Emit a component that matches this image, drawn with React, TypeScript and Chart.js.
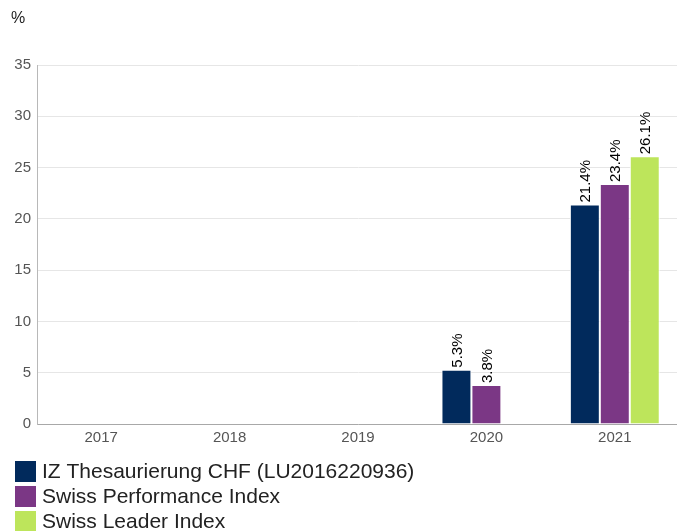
import React, { useEffect, useRef } from "react";
import { Chart, registerables } from "chart.js";

Chart.register(...registerables);

const categories = ["2017", "2018", "2019", "2020", "2021"];
const seriesNames = [
  "IZ Thesaurierung CHF (LU2016220936)",
  "Swiss Performance Index",
  "Swiss Leader Index",
];
const fundValues: (number | null)[] = [null, null, null, 5.3, 21.4];
const spiValues: (number | null)[] = [null, null, null, 3.8, 23.4];
const sliValues: (number | null)[] = [null, null, null, null, 26.1];
const seriesColors = ["#012a5c", "#7b3785", "#bde55b"];
const yTicks = [0, 5, 10, 15, 20, 25, 30, 35];
const yUnit = "%";

const FONT = '"Liberation Sans", Arial, Helvetica, sans-serif';

const overlayPlugin = {
  id: "overlay",
  afterDatasetsDraw(chart: any) {
    const ctx = chart.ctx;
    ctx.save();
    ctx.font = `15px ${FONT}`;
    ctx.fillStyle = "#000000";
    chart.data.datasets.forEach((ds: any, di: number) => {
      const meta = chart.getDatasetMeta(di);
      meta.data.forEach((el: any, i: number) => {
        const v = ds.data[i];
        if (v === null || v === undefined) return;
        ctx.save();
        ctx.translate(el.x + 1, el.y - 2);
        ctx.rotate(-Math.PI / 2);
        ctx.textAlign = "left";
        ctx.textBaseline = "middle";
        ctx.fillText(`${v.toFixed(1)}%`, 0, 0);
        ctx.restore();
      });
    });
    ctx.restore();
  },
  afterDraw(chart: any) {
    const ctx = chart.ctx;
    ctx.save();
    // unit label
    ctx.font = `16px ${FONT}`;
    ctx.fillStyle = "#222222";
    ctx.textAlign = "left";
    ctx.textBaseline = "middle";
    ctx.fillText(yUnit, 11, 19);
    // legend
    ctx.font = `21px ${FONT}`;
    chart.data.datasets.forEach((ds: any, i: number) => {
      const top = 461 + i * 25;
      ctx.fillStyle = ds.backgroundColor;
      ctx.fillRect(15, top, 21, 21);
      ctx.fillStyle = "#222222";
      ctx.textBaseline = "middle";
      ctx.fillText(ds.label, 42, top + 11);
    });
    ctx.restore();
  },
};

export default function App() {
  const ref = useRef<HTMLCanvasElement>(null);
  useEffect(() => {
    document.body.style.margin = "0";
    const canvas = ref.current!;
    const chart = new Chart(canvas, {
      type: "bar",
      data: {
        labels: categories,
        datasets: [fundValues, spiValues, sliValues].map((d, i) => ({
          label: seriesNames[i],
          data: d,
          backgroundColor: seriesColors[i],
          borderColor: "#ffffff",
          borderWidth: 1,
          categoryPercentage: 0.7,
          barPercentage: 1,
        })),
      },
      options: {
        responsive: false,
        animation: false,
        devicePixelRatio: 1,
        layout: { padding: { top: 65, right: 1, bottom: 77, left: 0 } },
        plugins: {
          legend: { display: false },
          tooltip: { enabled: false },
          title: { display: false },
        },
        scales: {
          x: {
            grid: { display: false, drawTicks: false },
            border: { display: true, color: "#a8a8a8", width: 1 },
            ticks: {
              color: "#555555",
              font: { family: FONT, size: 15 },
              padding: 5,
              autoSkip: false,
              maxRotation: 0,
            },
            afterFit(scale: any) {
              scale.height = 30;
            },
          },
          y: {
            min: 0,
            max: 35,
            afterBuildTicks(scale: any) {
              scale.ticks = yTicks.map((v) => ({ value: v }));
            },
            grid: { color: "#e6e6e6", drawTicks: false },
            border: { display: true, color: "#b8b8b8", width: 1 },
            ticks: {
              color: "#555555",
              font: { family: FONT, size: 15 },
              padding: 6,
            },
            afterFit(scale: any) {
              scale.width = 37;
            },
          },
        },
      },
      plugins: [overlayPlugin],
    });
    return () => chart.destroy();
  }, []);
  return (
    <div style={{ width: 677, height: 531, overflow: "hidden", background: "#fff" }}>
      <canvas ref={ref} width={680} height={531} style={{ display: "block" }} />
    </div>
  );
}
